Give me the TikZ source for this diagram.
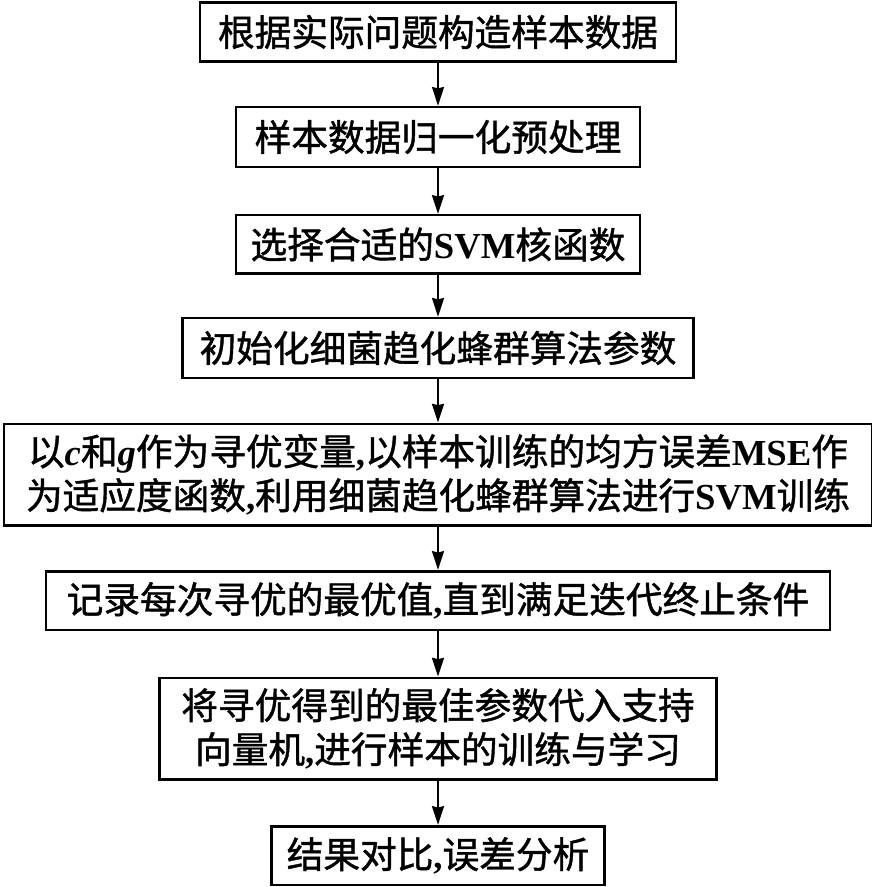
\documentclass[tikz,border=0pt]{standalone}
\usepackage{fontspec}
\setmainfont{Liberation Serif}
\newfontfamily\cjk{Noto Sans CJK SC}[FakeBold=1.2]
\newfontfamily\latin{Liberation Serif}
\newcommand{\rmword}[1]{{\latin\bfseries #1}}
\newcommand{\itword}[1]{{\latin\bfseries\itshape #1}}
\usetikzlibrary{arrows.meta}
\begin{document}
\begin{tikzpicture}[x=0.75pt, y=-0.75pt,
    box/.style={draw, line width=2pt, inner sep=0pt, align=center,
        font=\cjk\fontsize{27.5}{33}\selectfont},
    link/.style={line width=1.5pt, -{Stealth[length=14pt, width=9pt, inset=1pt]}}]
    \useasboundingbox (0,0) rectangle (871,887);

    \node[box, minimum width=357pt, minimum height=44pt] (data) at (438,32) {根据实际问题构造样本数据};
    \node[box, minimum width=303pt, minimum height=45pt] (norm) at (438,137) {样本数据归一化预处理};
    \node[box, minimum width=303pt, minimum height=44pt] (kern) at (438,244.5) {选择合适的\rmword{SVM}核函数};
    \node[box, minimum width=383pt, minimum height=45pt] (init) at (438,348) {初始化细菌趋化蜂群算法参数};
    \node[box, minimum width=651pt, minimum height=76pt] (train) at (438,474.5)
        {以\itword{c}和\itword{g}作为寻优变量\rmword{,}以样本训练的均方误差\rmword{MSE}作\\
         为适应度函数\rmword{,}利用细菌趋化蜂群算法进行\rmword{SVM}训练};
    \node[box, minimum width=588pt, minimum height=44pt] (rec) at (438,600.5) {记录每次寻优的最优值\rmword{,}直到满足迭代终止条件};
    \node[box, minimum width=418pt, minimum height=76pt] (best) at (438,728.5)
        {将寻优得到的最佳参数代入支持\\向量机\rmword{,}进行样本的训练与学习};
    \node[box, minimum width=250pt, minimum height=44pt] (res) at (438,855.5) {结果对比\rmword{,}误差分析};

    \draw[link] (data) -- (norm);
    \draw[link] (norm) -- (kern);
    \draw[link] (kern) -- (init);
    \draw[link] (init) -- (train);
    \draw[link] (train) -- (rec);
    \draw[link] (rec) -- (best);
    \draw[link] (best) -- (res);
\end{tikzpicture}
\end{document}
